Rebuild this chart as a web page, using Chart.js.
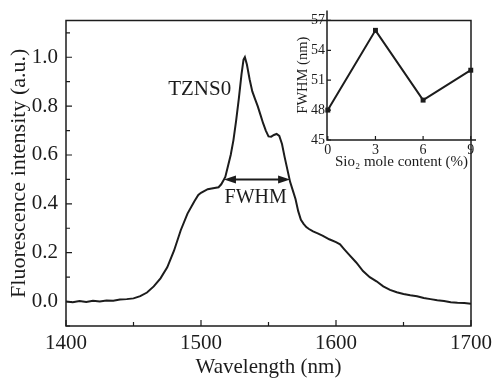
<!DOCTYPE html>
<html>
<head>
<meta charset="utf-8">
<script src="https://cdn.jsdelivr.net/npm/chart.js@4.4.1/dist/chart.umd.min.js"></script>
<style>
  body { margin: 0; background: #fff; }
  #wrap { position: relative; width: 497px; height: 378px; }
  #main-chart { position: absolute; left: 0; top: 0; }
  #inset-chart { position: absolute; left: 290px; top: 0; }
</style>
</head>
<body>
<div id="wrap">
  <canvas id="main-chart" width="497" height="378"></canvas>
  <canvas id="inset-chart" width="207" height="175"></canvas>
</div>
<script>
// spectrum of TZNS0
const wavelength = [
  1400, 1405, 1410, 1415, 1420, 1425, 1430, 1435, 1440, 1445,
  1450, 1455, 1460, 1465, 1470, 1475, 1480, 1485, 1490, 1495,
  1498, 1500, 1505, 1510, 1513, 1515, 1517, 1518, 1520, 1522,
  1524, 1526, 1528, 1530, 1531.5, 1532.5, 1534, 1536, 1538, 1540,
  1542, 1544, 1546, 1548, 1550, 1552, 1554, 1556, 1558, 1560,
  1562, 1564, 1566, 1568, 1570, 1572, 1574, 1576, 1578, 1580,
  1583, 1586, 1590, 1595, 1600, 1603, 1606, 1610, 1615, 1620,
  1625, 1630, 1635, 1640, 1645, 1650, 1655, 1660, 1665, 1670,
  1675, 1680, 1685, 1690, 1695, 1700
];
const intensity = [
  0.000, -0.003, 0.002, -0.002, 0.003, 0.000, 0.004, 0.003, 0.008, 0.010,
  0.013, 0.022, 0.037, 0.062, 0.095, 0.140, 0.208, 0.292, 0.360, 0.410,
  0.436, 0.445, 0.460, 0.465, 0.468, 0.480, 0.500, 0.510, 0.555, 0.600,
  0.660, 0.740, 0.830, 0.930, 0.990, 1.000, 0.970, 0.910, 0.860, 0.830,
  0.800, 0.765, 0.730, 0.700, 0.676, 0.675, 0.682, 0.686, 0.678, 0.645,
  0.590, 0.540, 0.490, 0.455, 0.420, 0.370, 0.335, 0.318, 0.305, 0.297,
  0.287, 0.280, 0.270, 0.255, 0.243, 0.234, 0.215, 0.190, 0.160, 0.125,
  0.100, 0.083, 0.062, 0.048, 0.038, 0.031, 0.026, 0.022, 0.015, 0.010,
  0.005, 0.002, -0.003, -0.005, -0.006, -0.009
];
const xTicks = [1400, 1500, 1600, 1700];
const xMinorTicks = [1450, 1550, 1650];
const yTicks = [0, 0.2, 0.4, 0.6, 0.8, 1.0];
const yMinorTicks = [-0.1, 0.1, 0.3, 0.5, 0.7, 0.9, 1.1];

// FWHM marker and label
const fwhmLevel = 0.5;
const fwhmFrom = 1517;
const fwhmTo = 1566;
const sampleLabel = { text: 'TZNS0', x: 1499, y: 0.87 };
const fwhmLabel = { text: 'FWHM', x: 1540.5, y: 0.426 };

// inset: FWHM vs SiO2 content
const sio2Content = [0, 3, 6, 9];
const fwhmNm = [48, 56, 49, 52];
const insetXTicks = [0, 3, 6, 9];
const insetYTicks = [45, 48, 51, 54, 57];

const INK = '#1c1c1c';
const SERIF = '"Liberation Serif", "Times New Roman", serif';

// frame + inward tick marks
const frameTicks = {
  id: 'frameTicks',
  afterDraw(chart, args, o) {
    const { ctx, chartArea: a, scales: { x, y } } = chart;
    ctx.save();
    ctx.strokeStyle = INK;
    ctx.lineWidth = 1.5;
    ctx.beginPath();
    if (o.box) {
      ctx.rect(a.left, a.top, a.right - a.left, a.bottom - a.top);
    } else {
      ctx.moveTo(a.left, a.top);
      ctx.lineTo(a.left, a.bottom);
      ctx.lineTo(a.right, a.bottom);
    }
    ctx.stroke();
    ctx.lineWidth = 1.2;
    ctx.beginPath();
    const tx = (vals, len) => vals.forEach(v => {
      const p = x.getPixelForValue(v);
      ctx.moveTo(p, a.bottom);
      ctx.lineTo(p, a.bottom - len);
    });
    const ty = (vals, len) => vals.forEach(v => {
      const p = y.getPixelForValue(v);
      ctx.moveTo(a.left, p);
      ctx.lineTo(a.left + len, p);
    });
    tx(o.xMajor, o.major);
    tx(o.xMinor || [], o.minor);
    ty(o.yMajor, o.major);
    ty(o.yMinor || [], o.minor);
    ctx.stroke();
    ctx.restore();
  }
};

// text labels and the double arrow
const notes = {
  id: 'notes',
  afterDatasetsDraw(chart) {
    const { ctx, scales: { x, y } } = chart;
    ctx.save();
    ctx.fillStyle = INK;
    ctx.strokeStyle = INK;
    ctx.textAlign = 'center';
    ctx.textBaseline = 'middle';
    ctx.font = '21px ' + SERIF;
    ctx.fillText(sampleLabel.text, x.getPixelForValue(sampleLabel.x), y.getPixelForValue(sampleLabel.y));
    ctx.font = '20px ' + SERIF;
    ctx.fillText(fwhmLabel.text, x.getPixelForValue(fwhmLabel.x), y.getPixelForValue(fwhmLabel.y));

    const x1 = x.getPixelForValue(fwhmFrom);
    const x2 = x.getPixelForValue(fwhmTo);
    const py = y.getPixelForValue(fwhmLevel);
    const head = 12;
    ctx.lineWidth = 2;
    ctx.beginPath();
    ctx.moveTo(x1 + head - 2, py);
    ctx.lineTo(x2 - head + 2, py);
    ctx.stroke();
    ctx.beginPath();
    ctx.moveTo(x1, py);
    ctx.lineTo(x1 + head, py - 4);
    ctx.lineTo(x1 + head, py + 4);
    ctx.closePath();
    ctx.moveTo(x2, py);
    ctx.lineTo(x2 - head, py - 4);
    ctx.lineTo(x2 - head, py + 4);
    ctx.closePath();
    ctx.fill();
    ctx.restore();
  }
};

function fixTicks(values) {
  return scale => { scale.ticks = values.map(v => ({ value: v })); };
}

new Chart(document.getElementById('main-chart').getContext('2d'), {
  type: 'line',
  data: {
    datasets: [{
      data: wavelength.map((w, i) => ({ x: w, y: intensity[i] })),
      borderColor: INK,
      borderWidth: 2,
      pointRadius: 0,
      tension: 0,
      fill: false
    }]
  },
  options: {
    responsive: false,
    animation: false,
    layout: { padding: { left: 0, top: 10, right: 21, bottom: 0 } },
    plugins: {
      legend: { display: false },
      tooltip: { enabled: false },
      frameTicks: { box: true, xMajor: xTicks, xMinor: xMinorTicks, yMajor: yTicks, yMinor: yMinorTicks, major: 6, minor: 4 }
    },
    scales: {
      x: {
        type: 'linear',
        min: 1400,
        max: 1700,
        afterBuildTicks: fixTicks(xTicks),
        afterFit: s => { s.height = 52; },
        grid: { display: false, drawTicks: false },
        border: { display: false },
        ticks: { color: INK, padding: 5, maxRotation: 0, autoSkip: false,
                 font: { family: SERIF, size: 21 }, callback: v => String(v) },
        title: { display: true, text: 'Wavelength (nm)', color: INK, padding: 0,
                 font: { family: SERIF, size: 21, lineHeight: 1 } }
      },
      y: {
        min: -0.1,
        max: 1.15,
        afterBuildTicks: fixTicks(yTicks),
        afterFit: s => { s.width = 66; },
        grid: { display: false, drawTicks: false },
        border: { display: false },
        ticks: { color: INK, padding: 8, autoSkip: false,
                 font: { family: SERIF, size: 21 }, callback: v => v.toFixed(1) },
        title: { display: true, text: 'Fluorescence intensity (a.u.)', color: INK, padding: { top: 8, bottom: 0 },
                 font: { family: SERIF, size: 22, lineHeight: 1 } }
      }
    }
  },
  plugins: [frameTicks, notes]
});

new Chart(document.getElementById('inset-chart').getContext('2d'), {
  type: 'line',
  data: {
    datasets: [{
      data: sio2Content.map((c, i) => ({ x: c, y: fwhmNm[i] })),
      borderColor: INK,
      backgroundColor: INK,
      borderWidth: 2,
      pointStyle: 'rect',
      pointRadius: 3.5,
      pointBorderWidth: 0,
      tension: 0,
      clip: false
    }]
  },
  options: {
    responsive: false,
    animation: false,
    layout: { padding: { left: 0, top: 10, right: 21, bottom: 0 } },
    plugins: {
      legend: { display: false },
      tooltip: { enabled: false },
      frameTicks: { box: false, xMajor: insetXTicks, yMajor: insetYTicks, major: 4, minor: 0 }
    },
    scales: {
      x: {
        type: 'linear',
        min: -0.05,
        max: 9.33,
        afterBuildTicks: fixTicks(insetXTicks),
        afterFit: s => { s.height = 35; },
        grid: { display: false, drawTicks: false },
        border: { display: false },
        ticks: { color: INK, padding: 2, maxRotation: 0, autoSkip: false,
                 font: { family: SERIF, size: 14 }, callback: v => String(v) },
        title: { display: true, text: 'Sio\u2082 mole content (%)', color: INK, padding: { top: 0, bottom: 5 },
                 font: { family: SERIF, size: 15, lineHeight: 1 } }
      },
      y: {
        min: 45,
        max: 58,
        afterBuildTicks: fixTicks(insetYTicks),
        afterFit: s => { s.width = 37; },
        grid: { display: false, drawTicks: false },
        border: { display: false },
        ticks: { color: INK, padding: 2, autoSkip: false,
                 font: { family: SERIF, size: 14 }, callback: v => String(v) },
        title: { display: true, text: 'FWHM (nm)', color: INK, padding: { top: 6, bottom: 0 },
                 font: { family: SERIF, size: 14.5, lineHeight: 1 } }
      }
    }
  },
  plugins: [frameTicks]
});
</script>
</body>
</html>
